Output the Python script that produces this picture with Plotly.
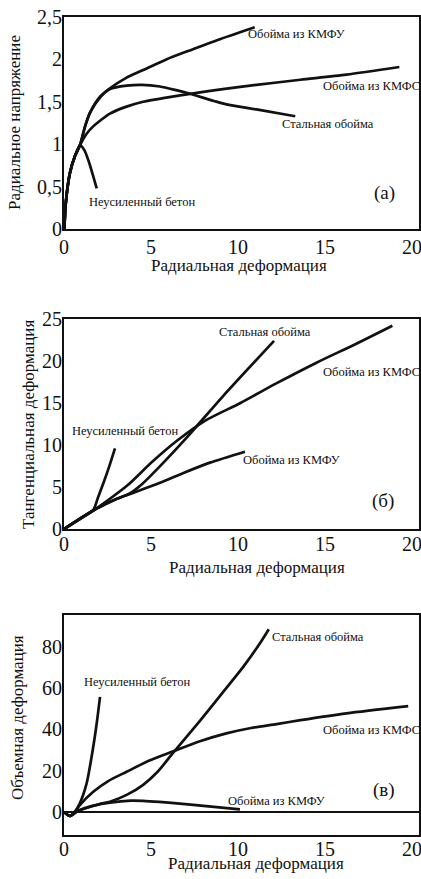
import plotly.graph_objects as go

# ---------------- data ----------------
# Panel (а): radial stress vs radial strain
a_unconf_x = [0.02, 0.1, 0.34, 0.63, 0.92, 1.17, 1.4, 1.64, 1.88]
a_unconf_y = [0, 0.3, 0.66, 0.86, 0.99, 0.93, 0.81, 0.65, 0.48]
a_kmfu_x = [0.02, 0.1, 0.34, 0.63, 0.92, 1.21, 1.49, 2.07, 2.64, 3.55, 4.55, 5.88, 7.41, 8.83, 10.96]
a_kmfu_y = [0, 0.3, 0.66, 0.86, 0.99, 1.21, 1.37, 1.56, 1.66, 1.78, 1.875, 2.0, 2.12, 2.23, 2.38]
a_steel_x = [0.02, 0.1, 0.34, 0.63, 0.92, 1.21, 1.49, 2.07, 2.64, 3.6, 4.46, 5.52, 6.39, 7.15, 8.62, 9.33, 11.06, 13.29]
a_steel_y = [0, 0.3, 0.66, 0.86, 0.99, 1.21, 1.37, 1.55, 1.65, 1.69, 1.7, 1.68, 1.64, 1.6, 1.51, 1.47, 1.41, 1.33]
a_kmfs_x = [0.02, 0.1, 0.34, 0.63, 0.92, 1.32, 1.68, 2.03, 2.64, 3.55, 4.55, 5.88, 7.44, 9.13, 11.06, 13.59, 16.23, 19.27]
a_kmfs_y = [0, 0.3, 0.66, 0.86, 0.99, 1.13, 1.21, 1.27, 1.36, 1.44, 1.5, 1.55, 1.6, 1.65, 1.7, 1.76, 1.82, 1.91]

# Panel (б): tangential strain vs radial strain
b_unconf_x = [0, 1.01, 1.68, 1.97, 2.26, 2.59, 2.93]
b_unconf_y = [0, 1.35, 2.26, 3.85, 5.44, 7.4, 9.6]
b_kmfu_x = [0, 1.68, 3.04, 3.96, 5.52, 6.9, 8.39, 10.4]
b_kmfu_y = [0, 2.2, 3.6, 4.3, 5.5, 6.7, 7.9, 9.2]
b_steel_x = [0, 1.68, 3.04, 3.75, 4.46, 5.48, 7.1, 9.13, 12.07]
b_steel_y = [0, 2.2, 3.6, 4.2, 5.3, 7.4, 11.0, 15.8, 22.4]
b_kmfs_x = [0, 1.68, 2.64, 3.65, 5.07, 6.49, 8.12, 10.14, 12.17, 14.51, 16.74, 18.87]
b_kmfs_y = [0, 2.2, 3.6, 5.2, 8.0, 10.5, 12.9, 15.0, 17.3, 19.8, 22.0, 24.2]

# Panel (в): volumetric strain vs radial strain
c_unconf_x = [0, 0.34, 0.61, 0.91, 1.3, 1.68, 1.88, 2.07]
c_unconf_y = [0, -1.9, 0.0, 4.3, 13.9, 31.6, 43.0, 55.8]
c_kmfu_x = [0, 0.34, 0.81, 1.62, 2.64, 3.85, 4.55, 5.48, 6.49, 8.32, 10.11]
c_kmfu_y = [0, -1.9, 0.6, 3.0, 4.6, 5.5, 5.4, 4.9, 4.2, 2.8, 1.3]
c_steel_x = [0, 0.34, 0.81, 2.03, 2.64, 3.6, 4.55, 5.38, 6.28, 7.81, 9.23, 10.31, 11.26, 11.77]
c_steel_y = [0, -1.9, 0.6, 3.8, 5.0, 8.3, 13.2, 19.5, 28.8, 44.2, 59.0, 70.4, 81.7, 88.5]
c_kmfs_x = [0, 0.34, 0.61, 0.91, 1.68, 2.54, 3.6, 4.87, 6.28, 7.81, 9.33, 10.75, 12.22, 13.59, 16.23, 19.78]
c_kmfs_y = [0, -1.9, 0.0, 3.4, 9.8, 15.0, 19.5, 24.8, 29.4, 34.3, 38.1, 40.7, 42.6, 44.5, 47.8, 51.3]

x_ticks = [0, 5, 10, 15, 20]
a_ticks = [0, 0.5, 1, 1.5, 2, 2.5]
a_ticktext = ["0", "0,5", "1", "1,5", "2", "2,5"]
b_ticks = [0, 5, 10, 15, 20, 25]
c_ticks = [0, 20, 40, 60, 80]

lbl_unconf = "Неусиленный бетон"
lbl_steel = "Стальная обойма"
lbl_kmfu = "Обойма из КМФУ"
lbl_kmfs = "Обойма из КМФС"
x_title = "Радиальная деформация"

# ---------------- figure ----------------
W, H = 421, 879
FONT = "Liberation Serif"
INK = "#111111"
LINE = dict(color=INK, width=2.7, shape="spline", smoothing=0.7)

fig = go.Figure()

def add(xs, ys, xa, ya):
    fig.add_trace(go.Scatter(x=xs, y=ys, mode="lines", line=LINE,
                             xaxis=xa, yaxis=ya, showlegend=False,
                             hoverinfo="skip"))

for xs, ys in [(a_unconf_x, a_unconf_y), (a_kmfu_x, a_kmfu_y),
               (a_steel_x, a_steel_y), (a_kmfs_x, a_kmfs_y)]:
    add(xs, ys, "x", "y")
for xs, ys in [(b_unconf_x, b_unconf_y), (b_kmfu_x, b_kmfu_y),
               (b_steel_x, b_steel_y), (b_kmfs_x, b_kmfs_y)]:
    add(xs, ys, "x2", "y2")
for xs, ys in [(c_unconf_x, c_unconf_y), (c_kmfu_x, c_kmfu_y),
               (c_steel_x, c_steel_y), (c_kmfs_x, c_kmfs_y)]:
    add(xs, ys, "x3", "y3")

def py(p):
    return 1 - p / H

def px(p):
    return p / W

xdom = [px(64), px(419)]
tickfont = dict(family=FONT, size=20, color=INK)
common_x = dict(domain=xdom, range=[0, 20.4], tickvals=x_ticks,
                showline=True, mirror=True, linecolor=INK, linewidth=2,
                showgrid=False, zeroline=False, ticks="", tickfont=tickfont,
                automargin=False, ticklabeloverflow="allow", fixedrange=True)
common_y = dict(showline=True, mirror=True, linecolor=INK, linewidth=2,
                showgrid=False, ticks="", tickfont=tickfont,
                ticklabelstandoff=-4, automargin=False,
                ticklabeloverflow="allow", fixedrange=True)

fig.update_layout(
    template="none",
    width=W, height=H,
    margin=dict(l=0, r=0, t=0, b=0, pad=0),
    paper_bgcolor="white", plot_bgcolor="white",
    font=dict(family=FONT, color=INK),
    xaxis=dict(common_x, anchor="y", ticklabelstandoff=-1),
    yaxis=dict(common_y, domain=[py(229), py(17)], range=[0, 2.5],
               tickvals=a_ticks, ticktext=a_ticktext, zeroline=False, anchor="x"),
    xaxis2=dict(common_x, anchor="y2", ticklabelstandoff=-4),
    yaxis2=dict(common_y, domain=[py(529), py(319)], range=[0, 25],
                tickvals=b_ticks, zeroline=False, anchor="x2"),
    xaxis3=dict(common_x, anchor="y3", ticklabelstandoff=-5),
    yaxis3=dict(common_y, domain=[py(835), py(615)], range=[-11.1, 95.4],
                tickvals=c_ticks, zeroline=True, zerolinecolor=INK,
                zerolinewidth=1.5, anchor="x3"),
)

ann = []

def lab(text, x, y, xr, yr, size=12.5, xanchor="left"):
    ann.append(dict(text=text, x=x, y=y, xref=xr, yref=yr, showarrow=False,
                    xanchor=xanchor, yanchor="middle",
                    font=dict(family=FONT, size=size, color=INK)))

# panel (а) labels
lab(lbl_kmfu, 10.46, 2.30, "x", "y")
lab(lbl_kmfs, 14.77, 1.69, "x", "y")
lab(lbl_steel, 12.41, 1.24, "x", "y")
lab(lbl_unconf, 1.32, 0.32, "x", "y")
lab("(а)", 18.39, 0.42, "x", "y", size=19, xanchor="center")
# panel (б) labels
lab(lbl_steel, 8.79, 23.45, "x2", "y2")
lab(lbl_kmfs, 14.77, 18.7, "x2", "y2")
lab(lbl_unconf, 0.34, 11.67, "x2", "y2")
lab(lbl_kmfu, 10.17, 8.2, "x2", "y2")
lab("(б)", 18.33, 3.33, "x2", "y2", size=19, xanchor="center")
# panel (в) labels
lab(lbl_steel, 11.84, 84.7, "x3", "y3")
lab(lbl_unconf, 1.03, 63.0, "x3", "y3")
lab(lbl_kmfs, 14.77, 39.7, "x3", "y3")
lab(lbl_kmfu, 9.31, 5.3, "x3", "y3")
lab("(в)", 18.39, 10.7, "x3", "y3", size=19, xanchor="center")
# "100" tick label above the top of panel (в)
ann.append(dict(text="100", x=0, y=100, xref="x3 domain", yref="y3",
                xanchor="right", yanchor="middle", showarrow=False,
                xshift=3, font=tickfont))

# axis titles
def title(text, x, y, angle=0):
    ann.append(dict(text=text, x=px(x), y=py(y), xref="paper", yref="paper",
                    showarrow=False, xanchor="center", yanchor="middle",
                    textangle=angle,
                    font=dict(family=FONT, size=17, color=INK)))

title(x_title, 239, 265)
title("Радиальное напряжение", 15, 123, -90)
title(x_title, 257, 567)
title("Тангенциальная деформация", 29, 425, -90)
title(x_title, 256, 863)
title("Объемная деформация", 17, 718, -90)

fig.update_layout(annotations=ann)
fig.write_html("out.html",
               config={"displayModeBar": False, "staticPlot": True},
               post_script="document.body.style.margin='0px';"
                           "document.body.style.overflow='hidden';")
